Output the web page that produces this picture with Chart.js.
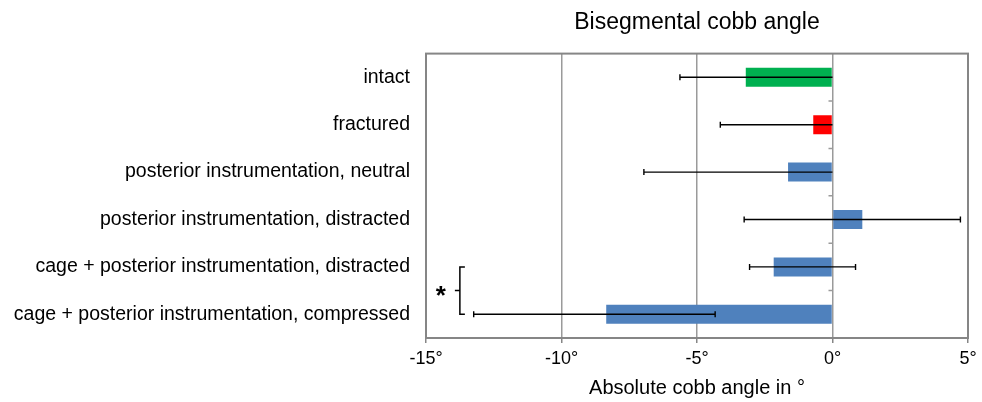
<!DOCTYPE html>
<html>
<head>
<meta charset="utf-8">
<script src="https://cdn.jsdelivr.net/npm/chart.js@4/dist/chart.umd.min.js"></script>
<style>
html, body { margin: 0; padding: 0; background: #fff; }
</style>
</head>
<body>
<canvas id="myChart" width="982" height="402"></canvas>
<script>
const categories = [
	"intact",
	"fractured",
	"posterior instrumentation, neutral",
	"posterior instrumentation, distracted",
	"cage + posterior instrumentation, distracted",
	"cage + posterior instrumentation, compressed"
];
const means = [-3.2, -0.71, -1.64, 1.1, -2.17, -8.35];
const errLow = [-5.63, -4.14, -6.96, -3.26, -3.06, -13.24];
const errHigh = [0, 0, 0, 4.72, 0.85, -4.33];
const barColors = ["#00B050", "#FF0000", "#4F81BD", "#4F81BD", "#4F81BD", "#4F81BD"];
const xTicks = [-15, -10, -5, 0, 5];

// significance bracket between the two cage rows
const sigRows = [4, 5];
const sigBracketX = -13.75;
const sigStarX = -14.45;

const font = "'Liberation Sans', Arial, Helvetica, sans-serif";

const extras = {
	id: "extras",
	beforeDatasetsDraw(chart) {
		const { ctx, scales: { x, y } } = chart;
		ctx.save();
		// little category ticks on the zero line
		const x0 = x.getPixelForValue(0);
		ctx.strokeStyle = "#9a9a9a";
		ctx.lineWidth = 1.5;
		ctx.beginPath();
		for (let i = 1; i < categories.length; i++) {
			const py = (y.getPixelForValue(i - 1) + y.getPixelForValue(i)) / 2;
			ctx.moveTo(x0 - 4, py);
			ctx.lineTo(x0, py);
		}
		ctx.stroke();
		ctx.restore();
	},
	afterDatasetsDraw(chart) {
		const { ctx, chartArea: a, scales: { x, y } } = chart;
		ctx.save();
		// error bars
		ctx.strokeStyle = "#000";
		ctx.lineWidth = 1.4;
		categories.forEach((c, i) => {
			const py = y.getPixelForValue(i);
			ctx.beginPath();
			ctx.moveTo(x.getPixelForValue(errLow[i]), py);
			ctx.lineTo(x.getPixelForValue(errHigh[i]), py);
			[errLow[i], errHigh[i]].forEach(v => {
				if (v !== 0) {
					const px = x.getPixelForValue(v);
					ctx.moveTo(px, py - 3);
					ctx.lineTo(px, py + 3);
				}
			});
			ctx.stroke();
		});

		// plot border
		ctx.strokeStyle = "#868686";
		ctx.lineWidth = 2;
		ctx.strokeRect(a.left, a.top, a.right - a.left, a.bottom - a.top);

		// bracket + asterisk
		const bx = x.getPixelForValue(sigBracketX);
		const y1 = y.getPixelForValue(sigRows[0]);
		const y2 = y.getPixelForValue(sigRows[1]);
		const ym = (y1 + y2) / 2;
		ctx.strokeStyle = "#000";
		ctx.lineWidth = 1.5;
		ctx.beginPath();
		ctx.moveTo(bx + 5, y1);
		ctx.lineTo(bx, y1);
		ctx.lineTo(bx, y2);
		ctx.lineTo(bx + 5, y2);
		ctx.moveTo(bx, ym);
		ctx.lineTo(bx - 5, ym);
		ctx.stroke();
		ctx.fillStyle = "#000";
		ctx.font = "bold 26px " + font;
		ctx.textAlign = "center";
		ctx.textBaseline = "alphabetic";
		ctx.fillText("*", x.getPixelForValue(sigStarX), ym + 13.5);
		ctx.restore();
	}
};

const myChart = new Chart(document.getElementById("myChart"), {
	type: "bar",
	data: {
		labels: categories,
		datasets: [{
			data: means,
			backgroundColor: barColors,
			borderWidth: 0,
			barPercentage: 0.4,
			categoryPercentage: 1
		}]
	},
	options: {
		indexAxis: "y",
		responsive: false,
		animation: false,
		devicePixelRatio: 1,
		layout: { padding: { left: 0, right: 14, top: 0, bottom: 0 } },
		plugins: {
			legend: { display: false },
			tooltip: { enabled: false },
			title: {
				display: true,
				text: "Bisegmental cobb angle",
				fullSize: false,
				color: "#000",
				font: { family: font, size: 23, weight: "normal" },
				padding: { top: 9, bottom: 17 }
			}
		},
		scales: {
			x: {
				min: -15,
				max: 5,
				afterBuildTicks: s => { s.ticks = xTicks.map(v => ({ value: v })); },
				afterFit: s => { s.height = 64; },
				ticks: {
					color: "#000",
					font: { family: font, size: 18 },
					padding: 5,
					maxRotation: 0,
					callback: v => v + "°"
				},
				grid: {
					color: "#9a9a9a",
					lineWidth: 1.5,
					tickColor: "#868686",
					tickLength: 5
				},
				border: { display: false },
				title: {
					display: true,
					text: "Absolute cobb angle in °",
					color: "#000",
					font: { family: font, size: 20 },
					padding: { top: 2, bottom: 2 }
				}
			},
			y: {
				afterFit: s => { s.width = 426; },
				ticks: {
					color: "#000",
					font: { family: font, size: 19.5 },
					padding: 16
				},
				grid: { display: false, drawTicks: false },
				border: { display: false }
			}
		}
	},
	plugins: [extras]
});
</script>
</body>
</html>
